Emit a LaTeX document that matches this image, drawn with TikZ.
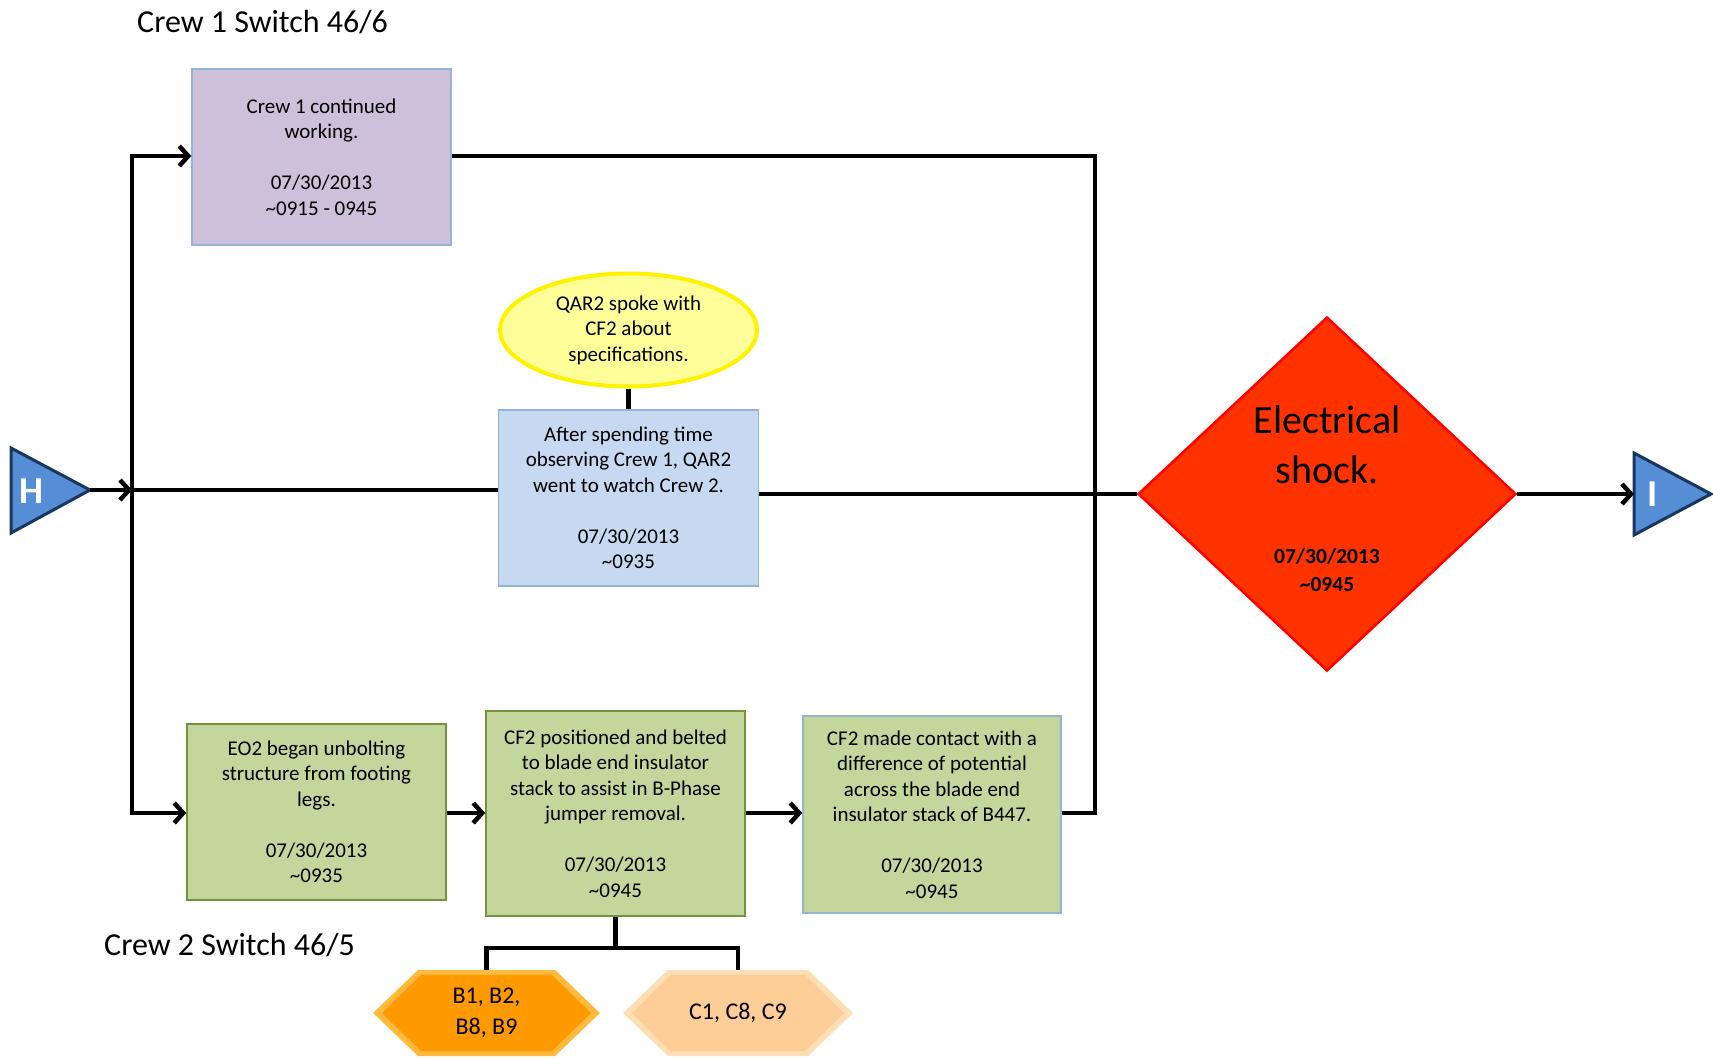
\documentclass[tikz,border=0pt]{standalone}
\usepackage{fontspec}
\setmainfont{Carlito}
\usetikzlibrary{arrows.meta,shapes.geometric,calc}
\definecolor{purp}{RGB}{204,192,218}
\definecolor{lblue}{RGB}{198,217,241}
\definecolor{bord}{RGB}{149,179,215}
\definecolor{grn}{RGB}{195,214,155}
\definecolor{olivebd}{RGB}{118,146,60}
\definecolor{ylw}{RGB}{255,255,153}
\definecolor{shockc}{RGB}{255,51,0}
\definecolor{tric}{RGB}{85,142,213}
\definecolor{navyc}{RGB}{23,55,94}
\definecolor{orngc}{RGB}{255,153,0}
\definecolor{orngl}{RGB}{255,185,60}
\definecolor{peachc}{RGB}{252,205,150}
\definecolor{peachl}{RGB}{255,222,180}
\newcommand\hexshape[4]{%
 \fill[#3] ($(#1)+(-#2,0)$) -- ($(#1)+(-#2+45,-43)$) -- ($(#1)+(#2-45,-43)$) -- ($(#1)+(#2,0)$) -- ($(#1)+(#2-45,43)$) -- ($(#1)+(-#2+45,43)$) -- cycle;
 \fill[#4] ($(#1)+(-#2+9,0)$) -- ($(#1)+(-#2+48,-38)$) -- ($(#1)+(#2-48,-38)$) -- ($(#1)+(#2-9,0)$) -- ($(#1)+(#2-48,38)$) -- ($(#1)+(-#2+48,38)$) -- cycle;}
\begin{document}
\begin{tikzpicture}[x=1pt,y=-1pt,
  txt/.style={font=\fontsize{21}{25.5}\selectfont,align=center},
  box/.style={txt,draw=bord,line width=1.5pt,minimum width=259pt,minimum height=176pt,inner sep=0pt},
  ln/.style={line width=4.5pt},
  arr/.style={line width=4.5pt,-{Straight Barb[length=9pt,width=20pt]}},
  title/.style={font=\fontsize{32}{38}\selectfont,anchor=west,inner sep=0pt},
  tri/.style={fill=tric,draw=navyc,line width=3pt,line join=miter},
  letter/.style={text=white,font=\bfseries\fontsize{38}{38}\selectfont,inner sep=0pt}]
\useasboundingbox (0,0) rectangle (1713,1058);
\fill[white] (0,0) rectangle (1713,1058);

% titles
\node[title] (t1) at (137,22) {Crew 1 Switch 46/6};
\node[title] (t2) at (104,945) {Crew 2 Switch 46/5};

% boxes
\node[box,fill=purp] (pu) at (321.5,157) {Crew 1 continued\\working.\\[25.5pt]07/30/2013\\\textasciitilde0915 - 0945};
\node[ellipse,draw=yellow,fill=ylw,line width=4pt,minimum width=257pt,minimum height=113pt,inner sep=0pt,txt] (el) at (628.5,330) {QAR2 spoke with\\CF2 about\\specifications.};
\node[box,fill=lblue,minimum width=260pt] (bl) at (628.5,498) {After spending time\\observing Crew 1, QAR2\\went to watch Crew 2.\\[25.5pt]07/30/2013\\\textasciitilde0935};
\node[box,fill=grn,draw=olivebd] (g1) at (316.5,812) {EO2 began unbolting\\structure from footing\\legs.\\[25.5pt]07/30/2013\\\textasciitilde0935};
\node[box,fill=grn,draw=olivebd,minimum height=205pt] (g2) at (615.5,813.5) {CF2 positioned and belted\\to blade end insulator\\stack to assist in B-Phase\\jumper removal.\\[25.5pt]07/30/2013\\\textasciitilde0945};
\node[box,fill=grn,minimum width=258pt,minimum height=197pt] (g3) at (932,814.5) {CF2 made contact with a\\difference of potential\\across the blade end\\insulator stack of B447.\\[25.5pt]07/30/2013\\\textasciitilde0945};

% diamond
\node[diamond,draw=red,fill=shockc,line width=2.5pt,minimum width=378pt,minimum height=354pt,inner sep=0pt] (dia) at (1327,494) {};
\node[font=\fontsize{40}{50}\selectfont,align=center] (dt) at (1327,445) {Electrical\\shock.};
\node[font=\bfseries\fontsize{21.5}{28}\selectfont,align=center] (dd) at (1327,570) {07/30/2013\\\textasciitilde0945};

% H and I triangles
\draw[tri] (11,448) -- (90,490) -- (11,533) -- cycle;
\coordinate (htip) at (90,490);
\node[letter] (hl) at (31,491) {H};
\draw[tri] (1634,453) -- (1711,494) -- (1634,535) -- cycle;
\coordinate (itail) at (1634,494);
\node[letter] (il) at (1653,494) {I};

% hexagons
\coordinate (hBc) at (486.5,1013);
\coordinate (hCc) at (738,1013);
\hexshape{hBc}{113.5}{orngl}{orngc}
\hexshape{hCc}{115}{peachl}{peachc}
\node[font=\fontsize{24}{31}\selectfont,align=center,minimum height=86pt,inner sep=0pt] (hB) at (hBc) {B1, B2,\\B8, B9};
\node[font=\fontsize{24}{31}\selectfont,align=center,minimum height=86pt,inner sep=0pt] (hC) at (hCc) {C1, C8, C9};

% connectors
\coordinate (J) at (132,490);
\coordinate (Jt) at (132,156);
\coordinate (Jb) at (132,813);
\coordinate (Rt) at (1095,156);
\coordinate (Rb) at (1095,813);
\draw[arr] (htip) -- (J);
\draw[ln,line cap=rect] (Jt) -- (Jb);
\draw[arr] (Jt) -- (Jt -| pu.west);
\draw[arr] (Jb) -- (Jb -| g1.west);
\draw[ln] (J) -- (J -| bl.west);
\draw[ln] (bl.east |- dia.west) -- (dia.west);
\draw[arr] (dia.east) -- (itail);
\draw[ln,line join=miter] (Jt -| pu.east) -- (Rt) -- (Rb) -- (Rb -| g3.east);
\draw[arr] (Jb -| g1.east) -- (Jb -| g2.west);
\draw[arr] (Jb -| g2.east) -- (Jb -| g3.west);
\draw[ln] (el.south) -- (bl.north);
\draw[ln] (g2.south) -- ++(0,31) coordinate (br);
\draw[ln,line join=miter] (hB.north) -- (hB.north |- br) -- (hC.north |- br) -- (hC.north);
\end{tikzpicture}
\end{document}
